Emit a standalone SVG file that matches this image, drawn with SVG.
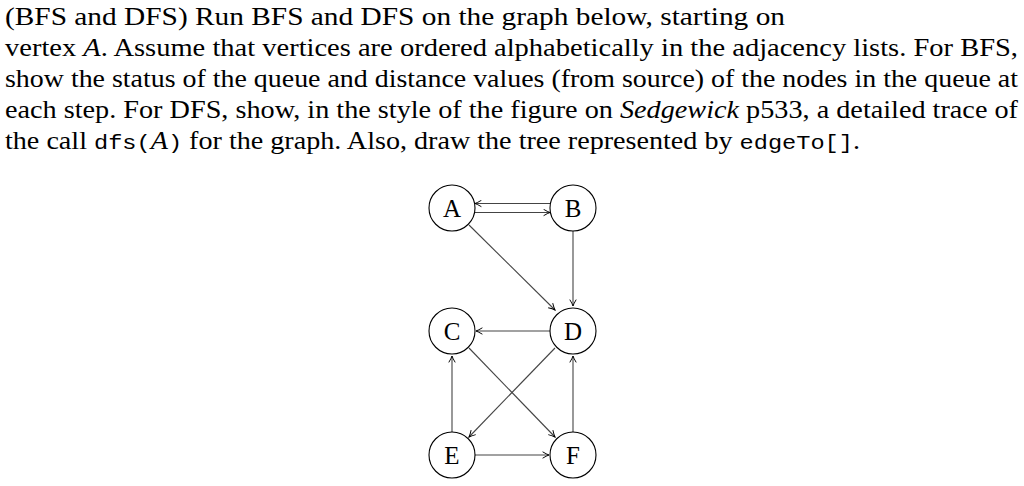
<svg xmlns="http://www.w3.org/2000/svg" width="1024" height="486" viewBox="0 0 1024 486">
<style>
text.t{font-family:"Liberation Serif","Times New Roman",serif;font-size:25px;fill:#000}
tspan.m{font-family:"Liberation Mono",monospace;font-size:21px}
.n circle{fill:#fff;stroke:#000;stroke-width:1.1}
.n text{font-family:"Liberation Serif",serif;font-size:25px;text-anchor:middle}
.e line{stroke:#444;stroke-width:1.1;marker-end:url(#ah)}
</style>
<defs><marker id="ah" viewBox="0 0 10 10" refX="9" refY="5" markerWidth="8" markerHeight="8" markerUnits="userSpaceOnUse" orient="auto"><path d="M1,1 Q6,4 9,5 Q6,6 1,9" fill="none" stroke="#000" stroke-width="1.2"/></marker></defs>
<rect width="1024" height="486" fill="#fff"/>
<text class="t" font-family="Liberation Serif, serif" x="5" y="25" textLength="780" lengthAdjust="spacingAndGlyphs">(BFS and DFS) Run BFS and DFS on the graph below, starting on</text>
<text class="t" font-family="Liberation Serif, serif" x="5" y="56" textLength="1013" lengthAdjust="spacingAndGlyphs">vertex <tspan font-style="italic">A</tspan>. Assume that vertices are ordered alphabetically in the adjacency lists. For BFS,</text>
<text class="t" font-family="Liberation Serif, serif" x="5" y="87" textLength="1013" lengthAdjust="spacingAndGlyphs">show the status of the queue and distance values (from source) of the nodes in the queue at</text>
<text class="t" font-family="Liberation Serif, serif" x="5" y="118" textLength="1013" lengthAdjust="spacingAndGlyphs">each step. For DFS, show, in the style of the figure on <tspan font-style="italic">Sedgewick</tspan> p533, a detailed trace of</text>
<text class="t" font-family="Liberation Serif, serif" x="5" y="149" textLength="855" lengthAdjust="spacingAndGlyphs">the call <tspan class="m" font-family="Liberation Mono, monospace">dfs(</tspan><tspan font-style="italic">A</tspan><tspan class="m" font-family="Liberation Mono, monospace">)</tspan> for the graph. Also, draw the tree represented by <tspan class="m" font-family="Liberation Mono, monospace">edgeTo[]</tspan>.</text>
<g class="e" id="edges">
<line x1="550" y1="203.5" x2="475" y2="203.5"/>
<line x1="475" y1="212.5" x2="550" y2="212.5"/>
<line x1="469" y1="225" x2="555" y2="310"/>
<line x1="573" y1="231" x2="573" y2="306"/>
<line x1="550" y1="331" x2="476" y2="331"/>
<line x1="555" y1="348" x2="469" y2="437"/>
<line x1="469" y1="348" x2="555" y2="437"/>
<line x1="452" y1="432" x2="452" y2="356"/>
<line x1="475" y1="455" x2="549" y2="455"/>
<line x1="573" y1="432" x2="573" y2="356"/>
</g>
<g class="n" id="A"><circle cx="452" cy="208" r="23"/><text x="452" y="217">A</text></g>
<g class="n" id="B"><circle cx="573" cy="208" r="23"/><text x="573" y="217">B</text></g>
<g class="n" id="C"><circle cx="452" cy="331" r="23"/><text x="452" y="340">C</text></g>
<g class="n" id="D"><circle cx="573" cy="331" r="23"/><text x="573" y="340">D</text></g>
<g class="n" id="E"><circle cx="452" cy="455" r="23"/><text x="452" y="464">E</text></g>
<g class="n" id="F"><circle cx="573" cy="455" r="23"/><text x="573" y="464">F</text></g>
</svg>
